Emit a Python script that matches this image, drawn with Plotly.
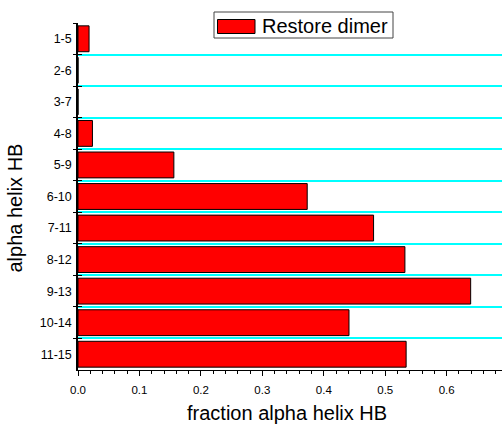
import plotly.graph_objects as go

# Helix windows (residue i to i+4) and the fraction of frames with the alpha-helix H-bond
windows = ["1-5", "2-6", "3-7", "4-8", "5-9", "6-10", "7-11", "8-12", "9-13", "10-14", "11-15"]
fraction_hb = [0.018, 0.0, 0.0, 0.0235, 0.156, 0.373, 0.481, 0.532, 0.639, 0.441, 0.534]
series_name = "Restore dimer"

FONT = "Liberation Sans, Arial, sans-serif"

# Plot area in pixels (used only to place the legend box in paper units)
L, R, T, B = 78, 502, 23, 370
W, H = R - L, B - T


def px(x):
    return (x - L) / W


def py(y):
    return (B - y) / H


fig = go.Figure()
fig.add_trace(go.Bar(
    x=fraction_hb,
    y=windows,
    orientation="h",
    name=series_name,
    marker=dict(color="#ff0000", line=dict(color="#000000", width=1)),
    showlegend=False,
))

# Empty trace on an overlaid category axis: supplies the inner half of the cross ticks
fig.add_trace(go.Scatter(
    x=[None] * len(windows), y=windows, yaxis="y2",
    mode="markers", showlegend=False, hoverinfo="skip",
))

n = len(windows)
fig.update_layout(
    width=503, height=424,
    margin=dict(l=L, r=503 - R, t=T, b=424 - B),
    paper_bgcolor="white", plot_bgcolor="white",
    font=dict(family=FONT, color="#000000", size=12),
    bargap=0.18,
    xaxis=dict(
        range=[0, 0.69], dtick=0.1, tick0=0, tickformat=".1f",
        showgrid=False, zeroline=False,
        showline=True, linecolor="#000000", linewidth=1,
        ticks="outside", ticklen=5, tickwidth=1, tickcolor="#000000",
        minor=dict(dtick=0.02, ticks="outside", ticklen=3, tickcolor="#000000", showgrid=False),
        tickfont=dict(size=11.5, family=FONT),
        ticklabelstandoff=4,
    ),
    yaxis=dict(
        type="category", categoryorder="array", categoryarray=windows,
        range=[n - 0.5, -0.5],
        tickson="boundaries",
        showgrid=True, gridcolor="#00ffff", gridwidth=1.5,
        zeroline=False,
        showline=True, linecolor="#000000", linewidth=1.5,
        ticks="outside", ticklen=3, tickwidth=1, tickcolor="#000000",
        tickfont=dict(size=12.5, family=FONT),
        ticklabelstandoff=2,
    ),
    yaxis2=dict(
        type="category", categoryorder="array", categoryarray=windows,
        range=[n - 0.5, -0.5], overlaying="y", side="left",
        tickson="boundaries", showgrid=False, zeroline=False,
        showline=False, showticklabels=False,
        ticks="inside", ticklen=4, tickwidth=1, tickcolor="#000000",
    ),
)

# Axis titles
fig.add_annotation(
    text="fraction alpha helix HB", xref="paper", yref="paper",
    x=px(286.5), y=py(413), xanchor="center", yanchor="middle",
    showarrow=False, font=dict(size=20, family=FONT),
)
fig.add_annotation(
    text="alpha helix HB", xref="paper", yref="paper",
    x=px(15), y=py(208.5), xanchor="center", yanchor="middle", textangle=-90,
    showarrow=False, font=dict(size=20, family=FONT),
)

# Legend: framed box, wide red swatch and series label
fig.add_shape(
    type="rect", xref="paper", yref="paper",
    x0=px(214), x1=px(393), y0=py(38), y1=py(12),
    fillcolor="white", line=dict(color="#444444", width=1),
)
fig.add_shape(
    type="rect", xref="paper", yref="paper",
    x0=px(217.5), x1=px(255), y0=py(33.5), y1=py(19.5),
    fillcolor="#ff0000", line=dict(color="#000000", width=1),
)
fig.add_annotation(
    text=series_name, xref="paper", yref="paper",
    x=px(260), y=py(25.5), xanchor="left", yanchor="middle",
    showarrow=False, font=dict(size=20, family=FONT),
)

fig.write_html("out.html")
